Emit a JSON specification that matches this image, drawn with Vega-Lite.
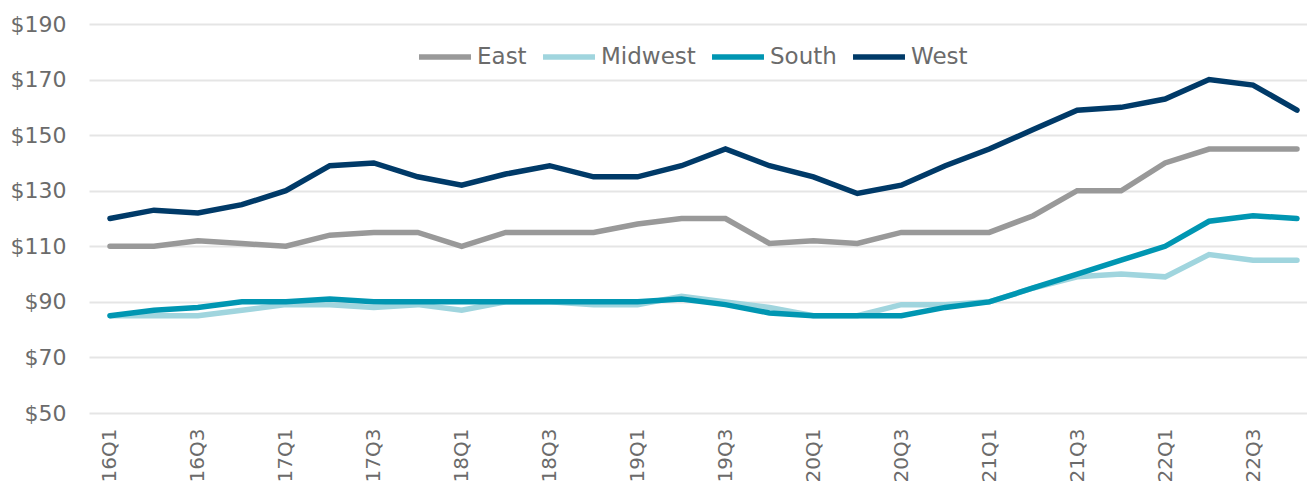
{
  "$schema": "https://vega.github.io/schema/vega-lite/v6.json",
  "autosize": "none",
  "padding": {"left": 89, "top": 24, "right": 0, "bottom": 80},
  "width": 1218,
  "height": 389,
  "background": "white",
  "config": {
    "view": {"stroke": null},
    "font": "DejaVu Sans",
    "axis": {"labelColor": "#6b6b6b", "labelFont": "DejaVu Sans"}
  },
  "data": {
    "values": [
      {"q":"16Q1","r":"East","v":110},{"q":"16Q1","r":"Midwest","v":85},{"q":"16Q1","r":"South","v":85},{"q":"16Q1","r":"West","v":120},
      {"q":"16Q2","r":"East","v":110},{"q":"16Q2","r":"Midwest","v":85},{"q":"16Q2","r":"South","v":87},{"q":"16Q2","r":"West","v":123},
      {"q":"16Q3","r":"East","v":112},{"q":"16Q3","r":"Midwest","v":85},{"q":"16Q3","r":"South","v":88},{"q":"16Q3","r":"West","v":122},
      {"q":"16Q4","r":"East","v":111},{"q":"16Q4","r":"Midwest","v":87},{"q":"16Q4","r":"South","v":90},{"q":"16Q4","r":"West","v":125},
      {"q":"17Q1","r":"East","v":110},{"q":"17Q1","r":"Midwest","v":89},{"q":"17Q1","r":"South","v":90},{"q":"17Q1","r":"West","v":130},
      {"q":"17Q2","r":"East","v":114},{"q":"17Q2","r":"Midwest","v":89},{"q":"17Q2","r":"South","v":91},{"q":"17Q2","r":"West","v":139},
      {"q":"17Q3","r":"East","v":115},{"q":"17Q3","r":"Midwest","v":88},{"q":"17Q3","r":"South","v":90},{"q":"17Q3","r":"West","v":140},
      {"q":"17Q4","r":"East","v":115},{"q":"17Q4","r":"Midwest","v":89},{"q":"17Q4","r":"South","v":90},{"q":"17Q4","r":"West","v":135},
      {"q":"18Q1","r":"East","v":110},{"q":"18Q1","r":"Midwest","v":87},{"q":"18Q1","r":"South","v":90},{"q":"18Q1","r":"West","v":132},
      {"q":"18Q2","r":"East","v":115},{"q":"18Q2","r":"Midwest","v":90},{"q":"18Q2","r":"South","v":90},{"q":"18Q2","r":"West","v":136},
      {"q":"18Q3","r":"East","v":115},{"q":"18Q3","r":"Midwest","v":90},{"q":"18Q3","r":"South","v":90},{"q":"18Q3","r":"West","v":139},
      {"q":"18Q4","r":"East","v":115},{"q":"18Q4","r":"Midwest","v":89},{"q":"18Q4","r":"South","v":90},{"q":"18Q4","r":"West","v":135},
      {"q":"19Q1","r":"East","v":118},{"q":"19Q1","r":"Midwest","v":89},{"q":"19Q1","r":"South","v":90},{"q":"19Q1","r":"West","v":135},
      {"q":"19Q2","r":"East","v":120},{"q":"19Q2","r":"Midwest","v":92},{"q":"19Q2","r":"South","v":91},{"q":"19Q2","r":"West","v":139},
      {"q":"19Q3","r":"East","v":120},{"q":"19Q3","r":"Midwest","v":90},{"q":"19Q3","r":"South","v":89},{"q":"19Q3","r":"West","v":145},
      {"q":"19Q4","r":"East","v":111},{"q":"19Q4","r":"Midwest","v":88},{"q":"19Q4","r":"South","v":86},{"q":"19Q4","r":"West","v":139},
      {"q":"20Q1","r":"East","v":112},{"q":"20Q1","r":"Midwest","v":85},{"q":"20Q1","r":"South","v":85},{"q":"20Q1","r":"West","v":135},
      {"q":"20Q2","r":"East","v":111},{"q":"20Q2","r":"Midwest","v":85},{"q":"20Q2","r":"South","v":85},{"q":"20Q2","r":"West","v":129},
      {"q":"20Q3","r":"East","v":115},{"q":"20Q3","r":"Midwest","v":89},{"q":"20Q3","r":"South","v":85},{"q":"20Q3","r":"West","v":132},
      {"q":"20Q4","r":"East","v":115},{"q":"20Q4","r":"Midwest","v":89},{"q":"20Q4","r":"South","v":88},{"q":"20Q4","r":"West","v":139},
      {"q":"21Q1","r":"East","v":115},{"q":"21Q1","r":"Midwest","v":90},{"q":"21Q1","r":"South","v":90},{"q":"21Q1","r":"West","v":145},
      {"q":"21Q2","r":"East","v":121},{"q":"21Q2","r":"Midwest","v":95},{"q":"21Q2","r":"South","v":95},{"q":"21Q2","r":"West","v":152},
      {"q":"21Q3","r":"East","v":130},{"q":"21Q3","r":"Midwest","v":99},{"q":"21Q3","r":"South","v":100},{"q":"21Q3","r":"West","v":159},
      {"q":"21Q4","r":"East","v":130},{"q":"21Q4","r":"Midwest","v":100},{"q":"21Q4","r":"South","v":105},{"q":"21Q4","r":"West","v":160},
      {"q":"22Q1","r":"East","v":140},{"q":"22Q1","r":"Midwest","v":99},{"q":"22Q1","r":"South","v":110},{"q":"22Q1","r":"West","v":163},
      {"q":"22Q2","r":"East","v":145},{"q":"22Q2","r":"Midwest","v":107},{"q":"22Q2","r":"South","v":119},{"q":"22Q2","r":"West","v":170},
      {"q":"22Q3","r":"East","v":145},{"q":"22Q3","r":"Midwest","v":105},{"q":"22Q3","r":"South","v":121},{"q":"22Q3","r":"West","v":168},
      {"q":"22Q4","r":"East","v":145},{"q":"22Q4","r":"Midwest","v":105},{"q":"22Q4","r":"South","v":120},{"q":"22Q4","r":"West","v":159}
    ]
  },
  "mark": {"type": "line", "strokeWidth": 5.5, "strokeCap": "round"},
  "encoding": {
    "x": {
      "field": "q", "type": "ordinal", "sort": null,
      "scale": {"type": "point", "padding": 0.3526, "align": 0.677},
      "axis": {
        "title": null, "domain": false, "ticks": false, "grid": false,
        "labelAngle": -90, "labelFontSize": 20, "labelPadding": 15,
        "values": ["16Q1","16Q3","17Q1","17Q3","18Q1","18Q3","19Q1","19Q3","20Q1","20Q3","21Q1","21Q3","22Q1","22Q3"]
      }
    },
    "y": {
      "field": "v", "type": "quantitative",
      "scale": {"domain": [50, 190], "nice": false, "zero": false},
      "axis": {
        "title": null, "domain": false, "ticks": false,
        "values": [50, 70, 90, 110, 130, 150, 170, 190],
        "labelExpr": "'$' + datum.value",
        "labelFontSize": 22, "labelPadding": 23,
        "gridColor": "#e5e5e5", "gridWidth": 2
      }
    },
    "color": {
      "field": "r", "type": "nominal",
      "scale": {"domain": ["East", "Midwest", "South", "West"], "range": ["#999999", "#a0d5de", "#0096b2", "#003a68"]},
      "legend": {
        "title": null, "orient": "none", "legendX": 327, "legendY": 4,
        "direction": "horizontal", "symbolType": "stroke", "symbolStrokeWidth": 5.5,
        "symbolSize": 2700, "labelFontSize": 23, "labelColor": "#6b6b6b",
        "labelOffset": 3, "columnPadding": 5, "labelFont": "DejaVu Sans"
      }
    }
  }
}
